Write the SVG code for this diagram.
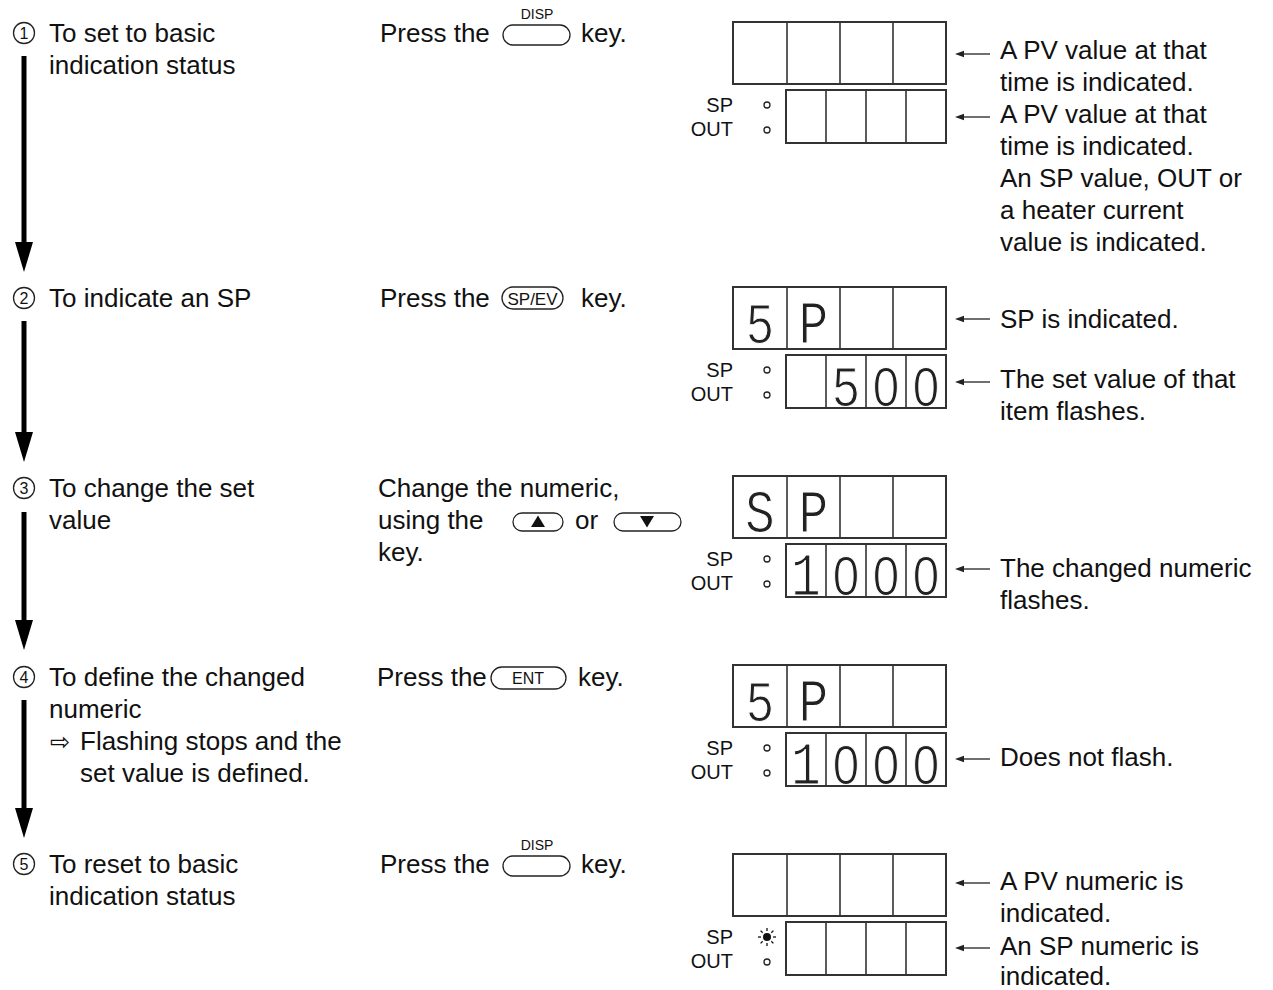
<svg xmlns="http://www.w3.org/2000/svg" width="1273" height="990" viewBox="0 0 1273 990">
<style>
.t{font-family:"Liberation Sans",Arial,Helvetica,sans-serif;font-size:26px;fill:#111}
.s{font-family:"Liberation Sans",Arial,Helvetica,sans-serif;font-size:20px;fill:#111;text-anchor:end}
.k{font-family:"Liberation Sans",Arial,Helvetica,sans-serif;font-size:14px;fill:#111;text-anchor:middle}
.n{font-family:"Liberation Sans",Arial,Helvetica,sans-serif;font-size:16px;fill:#111;text-anchor:middle}
.d{font-family:"Liberation Mono","Courier New",monospace;font-size:62px;fill:#222;text-anchor:middle;stroke:#fff;stroke-width:1.2}
.e{font-family:"Liberation Sans",Arial,sans-serif;font-size:56px;fill:#222;text-anchor:middle;stroke:#fff;stroke-width:1.1}
.box{fill:#fff;stroke:#333;stroke-width:2}
.div{stroke:#333;stroke-width:1.6}
.key{fill:none;stroke:#222;stroke-width:1.3}
.ind{fill:none;stroke:#222;stroke-width:1.3}
.va{stroke:#000;stroke-width:5}
.ra{stroke:#222;stroke-width:1.3}
</style>
<defs>
<g id="frame">
<rect class="box" x="0" y="0" width="213" height="62"/>
<line class="div" x1="54" y1="0" x2="54" y2="62"/>
<line class="div" x1="107" y1="0" x2="107" y2="62"/>
<line class="div" x1="160" y1="0" x2="160" y2="62"/>
<rect class="box" x="53" y="68" width="160" height="53"/>
<line class="div" x1="93" y1="68" x2="93" y2="121"/>
<line class="div" x1="133" y1="68" x2="133" y2="121"/>
<line class="div" x1="173" y1="68" x2="173" y2="121"/>
<text class="s" x="0" y="90">SP</text>
<text class="s" x="0" y="114">OUT</text>
<circle class="ind" cx="34" cy="108" r="3"/>
</g>
<g id="larr"><line class="ra" x1="958" y1="0" x2="990" y2="0"/><polygon points="955,0 964,-3.2 964,3.2" fill="#222"/></g>
</defs>

<g id="connectors">
<line class="va" x1="24" y1="56" x2="24" y2="244"/><polygon points="15,242 33,242 24,272"/>
<line class="va" x1="24" y1="321" x2="24" y2="434"/><polygon points="15,432 33,432 24,462"/>
<line class="va" x1="24" y1="512" x2="24" y2="622"/><polygon points="15,620 33,620 24,650"/>
<line class="va" x1="24" y1="700" x2="24" y2="810"/><polygon points="15,808 33,808 24,838"/>
<use href="#larr" transform="translate(0,54)"/>
<use href="#larr" transform="translate(0,117)"/>
<use href="#larr" transform="translate(0,319)"/>
<use href="#larr" transform="translate(0,382)"/>
<use href="#larr" transform="translate(0,569)"/>
<use href="#larr" transform="translate(0,759)"/>
<use href="#larr" transform="translate(0,883)"/>
<use href="#larr" transform="translate(0,948)"/>
</g>

<g id="step1">
<circle class="ind" cx="24" cy="33" r="10.5"/><text class="n" x="24" y="39">1</text>
<text class="t" x="49" y="42">To set to basic</text>
<text class="t" x="49" y="74">indication status</text>
</g>
<g id="step2">
<circle class="ind" cx="24" cy="298" r="10.5"/><text class="n" x="24" y="304">2</text>
<text class="t" x="49" y="307">To indicate an SP</text>
</g>
<g id="step3">
<circle class="ind" cx="24" cy="488" r="10.5"/><text class="n" x="24" y="494">3</text>
<text class="t" x="49" y="497">To change the set</text>
<text class="t" x="49" y="529">value</text>
</g>
<g id="step4">
<circle class="ind" cx="24" cy="677" r="10.5"/><text class="n" x="24" y="683">4</text>
<text class="t" x="49" y="686">To define the changed</text>
<text class="t" x="49" y="718">numeric</text>
<text x="50" y="750" style="font-family:'DejaVu Sans',sans-serif;font-size:24px;fill:#111">⇨</text>
<text class="t" x="80" y="750">Flashing stops and the</text>
<text class="t" x="80" y="782">set value is defined.</text>
</g>
<g id="step5">
<circle class="ind" cx="24" cy="864" r="10.5"/><text class="n" x="24" y="870">5</text>
<text class="t" x="49" y="873">To reset to basic</text>
<text class="t" x="49" y="905">indication status</text>
</g>

<g id="action1">
<text class="t" x="380" y="42">Press the</text>
<rect class="key" x="503" y="25" width="67" height="20" rx="10"/>
<text class="k" x="537" y="19">DISP</text>
<text class="t" x="581" y="42">key.</text>
</g>
<g id="action2">
<text class="t" x="380" y="307">Press the</text>
<rect class="key" x="502" y="287" width="61" height="22" rx="11"/>
<text x="532.5" y="304.5" style="font-family:'Liberation Sans',Arial,sans-serif;font-size:17px;fill:#111;text-anchor:middle">SP/EV</text>
<text class="t" x="581" y="307">key.</text>
</g>
<g id="action3">
<text class="t" x="378" y="497">Change the numeric,</text>
<text class="t" x="378" y="529">using the</text>
<rect class="key" x="513" y="513" width="50" height="18" rx="9"/>
<polygon points="538,515.5 545,527 531,527" fill="#111"/>
<text class="t" x="575" y="529">or</text>
<rect class="key" x="614" y="513" width="67" height="18" rx="9"/>
<polygon points="640,516 654,516 647,527.5" fill="#111"/>
<text class="t" x="378" y="561">key.</text>
</g>
<g id="action4">
<text class="t" x="377" y="686">Press the</text>
<rect class="key" x="491" y="667" width="75" height="22" rx="11"/>
<text x="528" y="684" style="font-family:'Liberation Sans',Arial,sans-serif;font-size:16px;fill:#111;text-anchor:middle">ENT</text>
<text class="t" x="578" y="686">key.</text>
</g>
<g id="action5">
<text class="t" x="380" y="873">Press the</text>
<rect class="key" x="503" y="856" width="67" height="20" rx="10"/>
<text class="k" x="537" y="850">DISP</text>
<text class="t" x="581" y="873">key.</text>
</g>

<g id="display1" transform="translate(733,22)">
<use href="#frame"/>
<circle class="ind" cx="34" cy="83" r="3"/>
</g>
<g id="display2" transform="translate(733,287)">
<use href="#frame"/>
<circle class="ind" cx="34" cy="83" r="3"/>
<text class="e" transform="translate(27,56) scale(0.85,1)">5</text>
<text class="d" transform="translate(80.5,56) scale(0.8,1)">P</text>
<text class="e" transform="translate(113,119) scale(0.85,1)">5</text>
<text class="e" transform="translate(153,119) scale(0.85,1)">0</text>
<text class="e" transform="translate(193,119) scale(0.85,1)">0</text>
</g>
<g id="display3" transform="translate(733,476)">
<use href="#frame"/>
<circle class="ind" cx="34" cy="83" r="3"/>
<text class="d" transform="translate(27,56) scale(0.8,1)">S</text>
<text class="d" transform="translate(80.5,56) scale(0.8,1)">P</text>
<text class="d" transform="translate(73,119) scale(0.8,1)">1</text>
<text class="e" transform="translate(113,119) scale(0.85,1)">0</text>
<text class="e" transform="translate(153,119) scale(0.85,1)">0</text>
<text class="e" transform="translate(193,119) scale(0.85,1)">0</text>
</g>
<g id="display4" transform="translate(733,665)">
<use href="#frame"/>
<circle class="ind" cx="34" cy="83" r="3"/>
<text class="e" transform="translate(27,56) scale(0.85,1)">5</text>
<text class="d" transform="translate(80.5,56) scale(0.8,1)">P</text>
<text class="d" transform="translate(73,119) scale(0.8,1)">1</text>
<text class="e" transform="translate(113,119) scale(0.85,1)">0</text>
<text class="e" transform="translate(153,119) scale(0.85,1)">0</text>
<text class="e" transform="translate(193,119) scale(0.85,1)">0</text>
</g>
<g id="display5" transform="translate(733,854)">
<use href="#frame"/>
<g transform="translate(34,83)" stroke="#111" stroke-width="1.3">
<circle r="4" fill="#111" stroke="none"/>
<line x1="6" y1="0" x2="9" y2="0"/><line x1="-6" y1="0" x2="-9" y2="0"/>
<line x1="0" y1="6" x2="0" y2="9"/><line x1="0" y1="-6" x2="0" y2="-9"/>
<line x1="4.3" y1="4.3" x2="6.4" y2="6.4"/><line x1="-4.3" y1="4.3" x2="-6.4" y2="6.4"/>
<line x1="4.3" y1="-4.3" x2="6.4" y2="-6.4"/><line x1="-4.3" y1="-4.3" x2="-6.4" y2="-6.4"/>
</g>
</g>

<g id="notes">
<text class="t" x="1000" y="59">A PV value at that</text>
<text class="t" x="1000" y="91">time is indicated.</text>
<text class="t" x="1000" y="123">A PV value at that</text>
<text class="t" x="1000" y="155">time is indicated.</text>
<text class="t" x="1000" y="187">An SP value, OUT or</text>
<text class="t" x="1000" y="219">a heater current</text>
<text class="t" x="1000" y="251">value is indicated.</text>
<text class="t" x="1000" y="328">SP is indicated.</text>
<text class="t" x="1000" y="388">The set value of that</text>
<text class="t" x="1000" y="420">item flashes.</text>
<text class="t" x="1000" y="577">The changed numeric</text>
<text class="t" x="1000" y="609">flashes.</text>
<text class="t" x="1000" y="766">Does not flash.</text>
<text class="t" x="1000" y="890">A PV numeric is</text>
<text class="t" x="1000" y="922">indicated.</text>
<text class="t" x="1000" y="955">An SP numeric is</text>
<text class="t" x="1000" y="985">indicated.</text>
</g>
</svg>
